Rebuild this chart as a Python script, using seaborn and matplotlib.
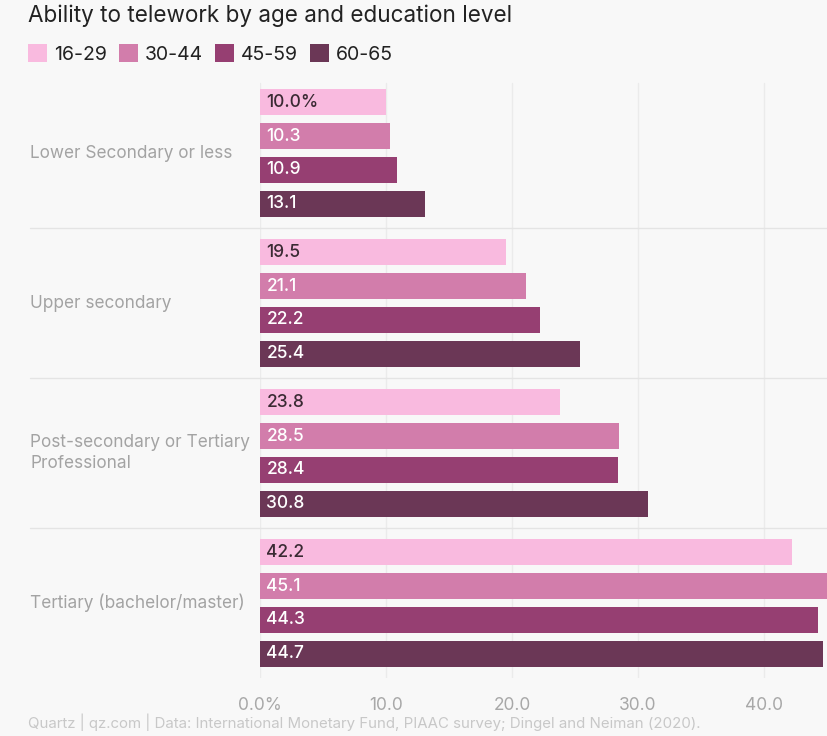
import matplotlib
matplotlib.use("Agg")
import matplotlib.pyplot as plt
import matplotlib.transforms as mtransforms
from matplotlib.patches import Patch
import seaborn as sns
import pandas as pd

# Share of workers able to telework (%), by education level and age group
education = [
    "Lower Secondary or less",
    "Upper secondary",
    "Post-secondary or Tertiary\nProfessional",
    "Tertiary (bachelor/master)",
]
age_groups = ["16-29", "30-44", "45-59", "60-65"]
share_16_29 = [10.0, 19.5, 23.8, 42.2]
share_30_44 = [10.3, 21.1, 28.5, 45.1]
share_45_59 = [10.9, 22.2, 28.4, 44.3]
share_60_65 = [13.1, 25.4, 30.8, 44.7]
x_ticks = [0, 10, 20, 30, 40]
x_tick_labels = ["0.0%", "10.0", "20.0", "30.0", "40.0"]

palette = ["#f9badf", "#d27dab", "#963f72", "#6b3756"]
label_colors = ["#3a2a33", "white", "white", "white"]
bg = "#f8f8f8"

series = [share_16_29, share_30_44, share_45_59, share_60_65]
df = pd.DataFrame(
    [(e, a, v) for a, vals in zip(age_groups, series) for e, v in zip(education, vals)],
    columns=["education", "age", "share"],
)

sns.set_theme(style="white")
plt.rcParams["font.family"] = ["Inter", "DejaVu Sans"]

fig = plt.figure(figsize=(8.27, 7.36), dpi=100, facecolor=bg)
W, H = 827, 736
ax = fig.add_axes([260 / W, (H - 678) / H, (W - 260) / W, 600 / H])
ax.set_facecolor(bg)

sns.barplot(
    data=df, y="education", x="share", hue="age", order=education,
    hue_order=age_groups, palette=palette, orient="h", width=0.9, gap=0.23,
    saturation=1, legend=False, ax=ax, zorder=2, linewidth=0, edgecolor="none",
)

ax.set_xlim(0, 45)
ax.set_ylim(3.5, -0.5)
ax.set_xticks(x_ticks)
ax.set_xticklabels(x_tick_labels, color="#a8a8a8", fontsize=12.5)
ax.set_yticks([])
ax.set_ylabel("")
ax.set_xlabel("")
for s in ax.spines.values():
    s.set_visible(False)

# vertical gridlines, extended a little below the plot area via tick marks
for t in x_ticks:
    ax.axvline(t, ymin=0, ymax=(600 - 5) / 600, color="#ebebeb", lw=1, zorder=0)
ax.tick_params(axis="x", length=12, width=1, color="#ebebeb", pad=2)

# value labels inside the bars
for i, (container, col) in enumerate(zip(ax.containers, label_colors)):
    vals = series[i]
    for j, (bar, v) in enumerate(zip(container, vals)):
        txt = f"{v:.1f}%" if (i == 0 and j == 0) else f"{v:.1f}"
        ax.annotate(
            txt, (0, bar.get_y() + bar.get_height() / 2), xytext=(4.5, 0),
            textcoords="offset points", va="center", ha="left",
            color=col, fontsize=12.5, fontweight="medium", zorder=3,
        )

# category labels and separators spanning the figure width
trans = mtransforms.blended_transform_factory(fig.transFigure, ax.transData)
for k, name in enumerate(education):
    ax.text(30 / W, k, name, transform=trans, ha="left", va="center",
            color="#a3a3a3", fontsize=12.4, linespacing=1.3)
for k in range(len(education) - 1):
    ax.plot([30 / W, 1], [k + 0.5, k + 0.5], transform=trans, color="#e4e4e4",
            lw=1, clip_on=False, zorder=1)

fig.text(28 / W, 1 - 16 / H, "Ability to telework by age and education level",
         ha="left", va="center", fontsize=16.2, color="#222222")

handles = [Patch(facecolor=c, edgecolor="none") for c in palette]
fig.legend(
    handles, age_groups, loc="center left", bbox_to_anchor=(20 / W, 1 - 54 / H),
    ncol=4, frameon=False, fontsize=14, handlelength=1.0, handleheight=1.0,
    handletextpad=0.35, columnspacing=0.6, borderaxespad=0, labelcolor="#222222",
)

fig.text(28 / W, 1 - 722 / H,
         "Quartz | qz.com | Data: International Monetary Fund, PIAAC survey; Dingel and Neiman (2020).",
         ha="left", va="center", fontsize=10.8, color="#c8c8c8")

fig.savefig("out.png", dpi=100, facecolor=bg)
